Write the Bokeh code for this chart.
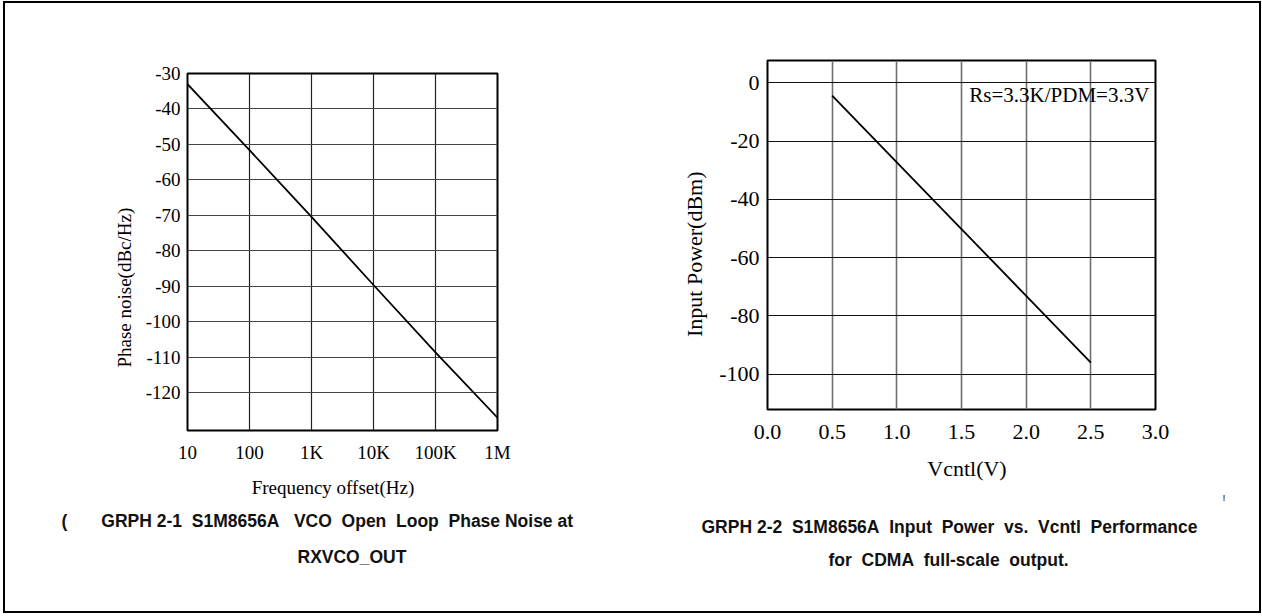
from bokeh.plotting import figure
from bokeh.models import FixedTicker, Label, Range1d, Title
from bokeh.layouts import row
from bokeh.embed import file_html
from bokeh.resources import INLINE

# ---- data: GRPH 2-1 (phase noise) ----
freq_hz = [10, 100, 1000, 10000, 100000, 1000000]
phase_noise = [-33.0, -51.6, -70.4, -89.6, -108.6, -127.0]
freq_tick_labels = ["10", "100", "1K", "10K", "100K", "1M"]
pn_ticks = [-120, -110, -100, -90, -80, -70, -60, -50, -40, -30]
pn_tick_labels = ["-120", "-110", "-100", "-90", "-80", "-70", "-60", "-50", "-40", "-30"]

# ---- data: GRPH 2-2 (input power vs Vcntl) ----
vcntl = [0.5, 1.0, 1.5, 2.0, 2.5]
input_power = [-4.4, -27.3, -50.2, -73.1, -96.0]
v_ticks = [0.0, 0.5, 1.0, 1.5, 2.0, 2.5, 3.0]
v_tick_labels = ["0.0", "0.5", "1.0", "1.5", "2.0", "2.5", "3.0"]
p_ticks = [-100, -80, -60, -40, -20, 0]
p_tick_labels = ["-100", "-80", "-60", "-40", "-20", "0"]

SERIF = "Liberation Serif"
SANS = "Liberation Sans"
NB = "\u00a0"


def style_axes(p, size):
    for ax in p.axis:
        ax.axis_line_color = None
        ax.major_tick_line_color = None
        ax.minor_tick_line_color = None
        ax.major_tick_out = 0
        ax.major_tick_in = 0
        ax.minor_tick_out = 0
        ax.minor_tick_in = 0
        ax.major_label_text_font = SERIF
        ax.major_label_text_font_size = size
        ax.major_label_text_color = "black"
        ax.axis_label_text_font = SERIF
        ax.axis_label_text_font_style = "normal"
        ax.axis_label_text_color = "black"
    p.outline_line_color = "black"
    p.outline_line_width = 2
    p.background_fill_color = "white"
    p.border_fill_color = None


def caption(p, text, offset, standoff):
    p.add_layout(Title(text=text, align="left", offset=offset, standoff=standoff,
                       text_font=SANS, text_font_style="bold", text_font_size="17.5px",
                       text_color="#111111"), "below")


# ---------------- left chart ----------------
p1 = figure(x_axis_type="log", x_range=Range1d(10, 1e6), y_range=Range1d(-130.6, -30),
            frame_width=310, frame_height=357,
            min_border_left=182, min_border_right=133, min_border_top=70, min_border_bottom=181,
            output_backend="svg", toolbar_location=None)
p1.line(freq_hz, phase_noise, line_color="black", line_width=1.8)
p1.xaxis.ticker = FixedTicker(ticks=freq_hz, minor_ticks=[])
p1.yaxis.ticker = FixedTicker(ticks=pn_ticks, minor_ticks=[])
p1.xaxis.major_label_overrides = {t: s for t, s in zip(freq_hz, freq_tick_labels)}
p1.yaxis.major_label_overrides = {t: s for t, s in zip(pn_ticks, pn_tick_labels)}
style_axes(p1, "19px")
p1.xaxis.major_label_standoff = 11
p1.yaxis.major_label_standoff = 7
p1.xaxis.axis_label = "Frequency offset(Hz)" + NB * 4
p1.yaxis.axis_label = "Phase noise(dBc/Hz)" + NB * 15
p1.xaxis.axis_label_text_font_size = "19px"
p1.yaxis.axis_label_text_font_size = "19px"
p1.xaxis.axis_label_standoff = 11
p1.yaxis.axis_label_standoff = 8
p1.xgrid.grid_line_color = "#222222"
p1.xgrid.grid_line_width = 1.2
p1.ygrid.grid_line_color = "#444444"
p1.ygrid.grid_line_width = 1.2

cap1a = "(" + NB * 7 + "GRPH 2-1" + NB * 2 + "S1M8656A" + NB * 3 + "VCO" + NB * 2 + "Open" + NB * 2 + "Loop" + NB * 2 + "Phase" + NB + "Noise" + NB + "at"
cap1b = "RXVCO_OUT"
caption(p1, cap1a, -126, 16)
caption(p1, cap1b, 110, 12)

# ---------------- right chart ----------------
p2 = figure(x_range=Range1d(0, 3.0), y_range=Range1d(-112.1, 7.65),
            frame_width=388, frame_height=349,
            min_border_left=137, min_border_right=104, min_border_top=70, min_border_bottom=189,
            output_backend="svg", toolbar_location=None,
            styles={"position": "relative", "top": "-13px"})
p2.line(vcntl, input_power, line_color="black", line_width=1.8)
p2.xaxis.ticker = FixedTicker(ticks=v_ticks, minor_ticks=[])
p2.yaxis.ticker = FixedTicker(ticks=p_ticks, minor_ticks=[])
p2.xaxis.major_label_overrides = {t: s for t, s in zip(v_ticks, v_tick_labels)}
p2.yaxis.major_label_overrides = {t: s for t, s in zip(p_ticks, p_tick_labels)}
style_axes(p2, "22px")
p2.xaxis.major_label_standoff = 15
p2.yaxis.major_label_standoff = 8
p2.xaxis.axis_label = NB * 2 + "Vcntl(V)"
p2.yaxis.axis_label = "Input Power(dBm)" + NB * 7
p2.xaxis.axis_label_text_font_size = "22px"
p2.yaxis.axis_label_text_font_size = "22px"
p2.xaxis.axis_label_standoff = 14
p2.yaxis.axis_label_standoff = 9
p2.xgrid.grid_line_color = "#6e6e6e"
p2.xgrid.grid_line_width = 1.6
p2.ygrid.grid_line_color = "#111111"
p2.ygrid.grid_line_width = 1.2

p2.add_layout(Label(x=1.56, y=-4.35, text="Rs=3.3K/PDM=3.3V", text_align="left",
                    text_baseline="middle", text_font=SERIF, text_font_size="21px",
                    text_color="black"))

cap2a = "GRPH 2-2" + NB * 2 + "S1M8656A" + NB * 2 + "Input" + NB * 2 + "Power" + NB * 2 + "vs." + NB * 2 + "Vcntl" + NB * 2 + "Performance"
cap2b = "for" + NB * 2 + "CDMA" + NB * 2 + "full-scale" + NB * 2 + "output."
# small stray mark right of the chart, between the axis title and the caption
p2.add_layout(Title(text="!", align="left", offset=455, standoff=14, text_font=SANS,
                    text_font_size="9px", text_color="#555555"), "below")
caption(p2, cap2a, -66, 10)
caption(p2, cap2b, 61, 13)

layout = row(p1, p2, styles={"border": "2px solid black", "margin-left": "3px", "margin-top": "1px"})

open("out.html", "w").write(file_html(layout, INLINE))
